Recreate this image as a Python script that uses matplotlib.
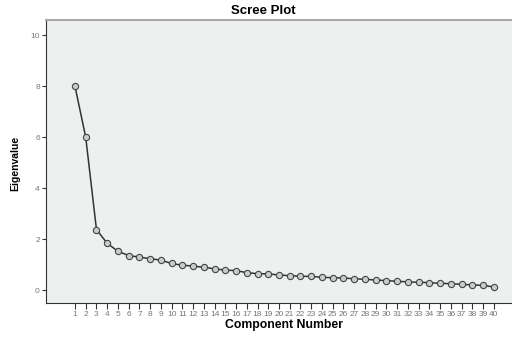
import matplotlib
matplotlib.use("Agg")
import matplotlib.pyplot as plt
import numpy as np

plt.rcParams['font.family'] = ['Liberation Sans', 'DejaVu Sans']

# eigenvalues
components = list(range(1, 41))
eigenvalues = [8.0, 6.0, 2.38, 1.84, 1.53, 1.36, 1.30, 1.24, 1.18, 1.05,
               0.98, 0.95, 0.90, 0.84, 0.79, 0.77, 0.69, 0.65, 0.64, 0.60,
               0.57, 0.55, 0.54, 0.51, 0.49, 0.48, 0.45, 0.43, 0.40, 0.38,
               0.35, 0.33, 0.31, 0.30, 0.27, 0.26, 0.23, 0.21, 0.19, 0.13]
y_ticks = [0, 2, 4, 6, 8, 10]

fig = plt.figure(figsize=(5.12, 3.37), dpi=100)
ax = fig.add_axes([46 / 512, 1 - 303 / 337, 1 - 46 / 512, (303 - 20) / 337])
ax.set_facecolor('#eef0f0')

ax.plot(components, eigenvalues, color='#333333', linewidth=1.1,
        marker='o', markersize=4.5, markerfacecolor='#c8cccc',
        markeredgecolor='#444444', markeredgewidth=0.8)

ax.set_xlim(-1.7, 41.7)
ax.set_ylim(-0.5, 10.6)
ax.set_xticks(components)
ax.set_xticklabels([str(c) for c in components])
ax.set_yticks(y_ticks)

ax.tick_params(axis='x', labelsize=6, colors='#333333', length=4, width=0.8,
               pad=1.5, direction='out')
ax.tick_params(axis='y', labelsize=6, colors='#333333', length=3, width=0.8, pad=1.5)
for lbl in ax.get_xticklabels() + ax.get_yticklabels():
    lbl.set_color('#777777')

ax.spines['top'].set_color('#aaaaaa')
ax.spines['top'].set_linewidth(1.5)
ax.spines['right'].set_visible(False)
ax.spines['left'].set_color('#333333')
ax.spines['bottom'].set_color('#333333')

fig.text(263 / 512, 1 - 11 / 337, 'Scree Plot', ha='center', va='center',
         fontsize=9.5, fontweight='bold')
fig.text(284 / 512, 1 - 325 / 337, 'Component Number', ha='center', va='center',
         fontsize=8.8, fontweight='bold')
fig.text(15 / 512, 1 - 163 / 337, 'Eigenvalue', ha='center', va='center',
         fontsize=7.5, fontweight='bold', rotation=90)

fig.savefig('out.png', dpi=100, facecolor='white')
